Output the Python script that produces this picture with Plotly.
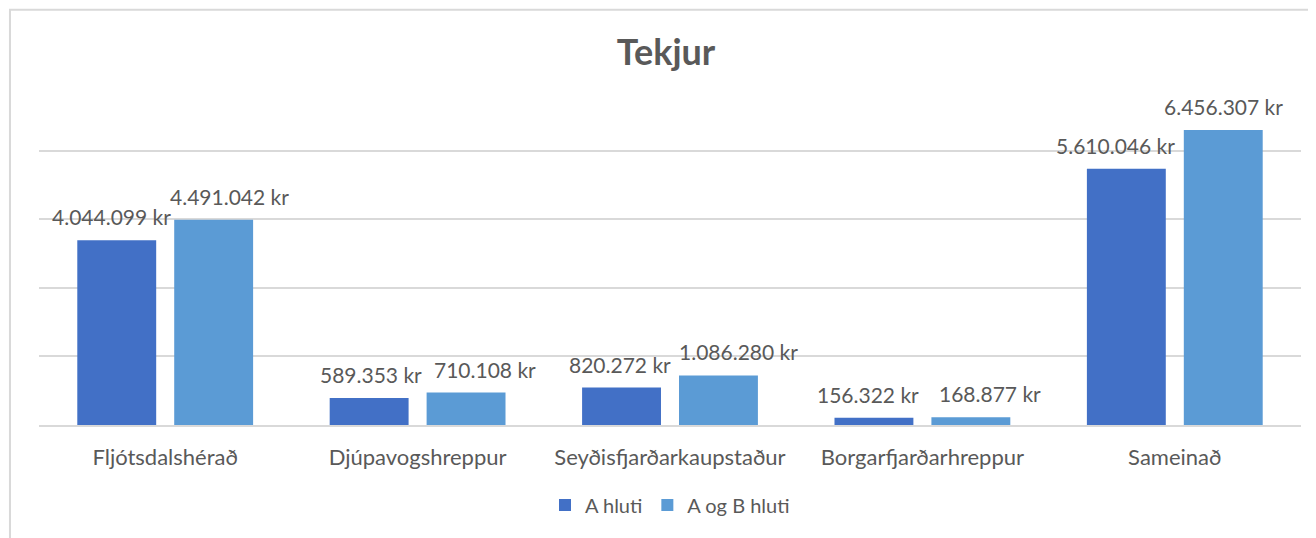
import plotly.graph_objects as go

categories = ["Fljótsdalshérað", "Djúpavogshreppur", "Seyðisfjarðarkaupstaður",
              "Borgarfjarðarhreppur", "Sameinað"]
a_hluti = [4044099, 589353, 820272, 156322, 5610046]
a_og_b_hluti = [4491042, 710108, 1086280, 168877, 6456307]
series_names = ["A hluti", "A og B hluti"]
title_text = "Tekjur"

FONT = "Lato, Carlito, Calibri, sans-serif"
TXT = "#595959"
C_A = "#4270c6"
C_B = "#5b9bd5"

# horizontal label nudges (px), as placed in the original chart
nudge_a = [-5.5, 2, -2, -5.5, -11]
nudge_b = [15.5, 19, 19.5, 19, 0]


def fmt(v):
    return f"{v:,}".replace(",", ".") + " kr"


fig = go.Figure()
fig.add_trace(go.Bar(name=series_names[0], x=categories, y=a_hluti,
                     marker=dict(color=C_A, line=dict(width=0))))
fig.add_trace(go.Bar(name=series_names[1], x=categories, y=a_og_b_hluti,
                     marker=dict(color=C_B, line=dict(width=0))))

annotations = []
for vals, base, nudges in ((a_hluti, -48.5, nudge_a), (a_og_b_hluti, 48.5, nudge_b)):
    for c, v, n in zip(categories, vals, nudges):
        annotations.append(dict(x=c, y=v, xref="x", yref="y", text=fmt(v),
                                showarrow=False, xshift=base + n, yshift=23.5,
                                yanchor="middle",
                                font=dict(family=FONT, size=21, color=TXT)))

fig.update_layout(
    width=1316, height=538,
    margin=dict(l=31, r=22.5, t=92, b=121),
    paper_bgcolor="white", plot_bgcolor="white",
    title=dict(text="<b>" + title_text + "</b>", x=0.5, xanchor="center",
               y=1 - 44 / 538, yanchor="middle",
               font=dict(family=FONT, size=36, color=TXT)),
    barmode="group", bargap=0.232, bargroupgap=0.186,
    showlegend=True,
    legend=dict(orientation="h", x=0.5, xanchor="center", y=-0.246,
                yanchor="middle", font=dict(family=FONT, size=20, color=TXT),
                itemwidth=30, traceorder="normal"),
    annotations=annotations,
    shapes=[dict(type="rect", xref="paper", yref="paper",
                 x0=-0.023, x1=1.2, y0=-0.6, y1=1.278,
                 line=dict(color="#d9d9d9", width=2), layer="below")],
)
fig.update_xaxes(showgrid=False, showline=True, linecolor="#d9d9d9", linewidth=2,
                 ticks="", tickfont=dict(family=FONT, size=22, color=TXT),
                 ticklabelstandoff=12)
fig.update_yaxes(range=[0, 7115000], dtick=1500000, tick0=0, showgrid=True,
                 gridcolor="#d9d9d9", gridwidth=2, showticklabels=False,
                 zeroline=False)

fig.write_html("out.html")
